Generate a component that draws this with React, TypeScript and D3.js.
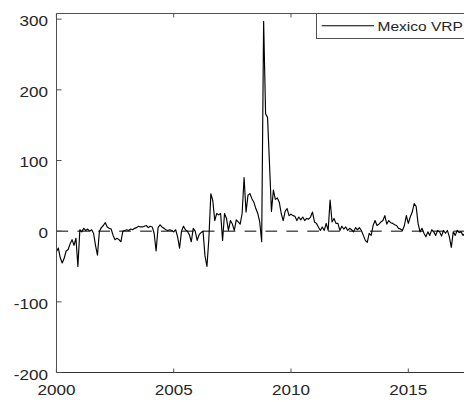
import React from 'react';
import * as d3 from 'd3';

// Monthly variance risk premium, starting January 2000
const START_YEAR = 2000;
const seriesName = 'Mexico VRP';
const vrp: number[] = [
  -29, -24, -38, -45, -38, -28, -26, -18, -12, -20, -10, -50,
  2, -1, 4, 1, 3, 0, 2, -3, -20, -34, 0, 5,
  8, 12, 6, 4, 3, -6, -12, -10, -12, -15, 0, 1,
  2, 1, 3, 2, 4, 5, 7, 6, 6, 7, 8, 5,
  7, 6, -3, -28, 5, 9, 6, 4, 2, 1, 2, 1,
  -1, 2, -8, -24, 0, 7, 2, 0, -5, -15, 4, 0,
  -13, -5, -2, 0, -35, -50, -10, 53, 43, 15, 25, 23,
  25, -13, 25, 18, 1, 15, 10, 1, 16, 13, 10, 25,
  76, 27, 51, 53, 46, 41, 32, 25, 13, -15, 297, 166,
  161, 95, 28, 58, 45, 47, 41, 25, 15, 28, 32, 22,
  24, 22, 21, 15, 20, 16, 20, 15, 18, 17, 20, 27,
  13, 11, 6, 1, 6, 1, 11, 1, 44, 13, 18, 11,
  11, 1, 7, 3, 6, 1, 4, 2, -1, 5, 2, 5,
  1, -6, -13, -16, -3, -6, 8, 15, 8, 10, 13, 15,
  22, 10, 15, 12, 11, 9, 8, 4, 3, 1, 8, 22,
  11, 20, 27, 39, 35, 11, -1, 4, -3, -8, -1, -6,
  2, -1, -6, 1, -1, -7, 1, -3, 1, -8, -23, -1,
  -6, 1, -2, -1, -6, -3,
];

const xTicks = [2000, 2005, 2010, 2015];
const yTicks = [-200, -100, 0, 100, 200, 300];
const xDomain = [2000, 2018.5];
const yDomain = [-200, 308];

const W = 464;
const H = 402;
const LEFT = 56.5;
const TOP = 13.5;
const BOTTOM = 372.5;
const RIGHT = 490.5;

const AXIS = '#505050';
const TEXT = '#262626';
const FONT = 'Liberation Sans, Arial, Helvetica, sans-serif';
const STRETCH = 1.14;

export default function App() {
  const x = d3.scaleLinear().domain(xDomain).range([LEFT - 0.1, LEFT - 0.1 + 18.5 * 23.46]);
  const y = d3.scaleLinear().domain(yDomain).range([BOTTOM, TOP]);

  const line = d3
    .line<number>()
    .x((_, i) => x(START_YEAR + i / 12))
    .y((d) => y(d))
    .curve(d3.curveLinear);

  const y0 = y(0);

  return (
    <svg
      width={W}
      height={H}
      viewBox={`0 0 ${W} ${H}`}
      style={{ position: 'absolute', left: 0, top: 0, background: '#fff' }}
    >
      <rect x={0} y={0} width={W} height={H} fill="#fff" />

      {/* zero reference */}
      <line
        x1={LEFT}
        x2={RIGHT}
        y1={y0}
        y2={y0}
        stroke="#000"
        strokeWidth={1}
        strokeDasharray="11.7 9.2"
      />

      {/* series */}
      <path d={line(vrp) ?? ''} fill="none" stroke="#000" strokeWidth={1.15} strokeLinejoin="round" />

      {/* axes box */}
      <line x1={LEFT} x2={LEFT} y1={TOP} y2={BOTTOM} stroke={AXIS} strokeWidth={1} />
      <line x1={LEFT} x2={RIGHT} y1={TOP} y2={TOP} stroke={AXIS} strokeWidth={1} />
      <line x1={LEFT} x2={RIGHT} y1={BOTTOM} y2={BOTTOM} stroke="#333" strokeWidth={1} />

      {/* y ticks */}
      {yTicks.map((t) => (
        <g key={`y${t}`}>
          <line x1={LEFT} x2={LEFT + 5} y1={y(t)} y2={y(t)} stroke={AXIS} strokeWidth={1} />
          <text
            transform={`translate(48,${y(t) + 7}) scale(${STRETCH},1)`}
            textAnchor="end"
            fontFamily={FONT}
            fontSize={15}
            fill={TEXT}
          >
            {t}
          </text>
        </g>
      ))}

      {/* x ticks */}
      {xTicks.map((t) => (
        <g key={`x${t}`}>
          <line x1={x(t)} x2={x(t)} y1={BOTTOM} y2={BOTTOM - 4} stroke={AXIS} strokeWidth={1} />
          <line x1={x(t)} x2={x(t)} y1={TOP} y2={TOP + 4} stroke={AXIS} strokeWidth={1} />
          <text
            transform={`translate(${x(t)},395) scale(${STRETCH},1)`}
            textAnchor="middle"
            fontFamily={FONT}
            fontSize={15}
            fill={TEXT}
          >
            {t}
          </text>
        </g>
      ))}

      {/* legend */}
      <g>
        <rect x={316.5} y={TOP} width={180} height={25} fill="#fff" stroke={AXIS} strokeWidth={1} />
        <line x1={321.7} x2={374} y1={25.7} y2={25.7} stroke="#000" strokeWidth={1.15} />
        <text
          transform={`translate(377.5,30.8) scale(${STRETCH},1)`}
          fontFamily={FONT}
          fontSize={13.6}
          fill={TEXT}
        >
          {seriesName}
        </text>
      </g>
    </svg>
  );
}
